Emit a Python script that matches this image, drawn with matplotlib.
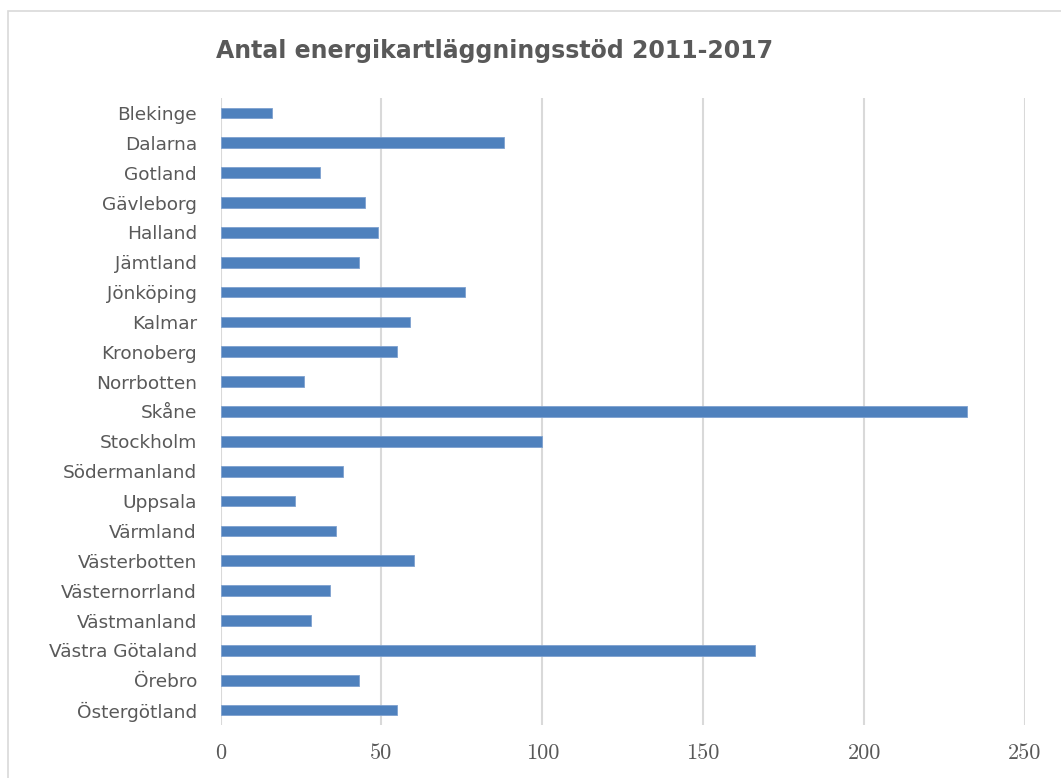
import matplotlib
matplotlib.use("Agg")
import matplotlib.pyplot as plt
from matplotlib.patches import Rectangle

categories = ["Blekinge", "Dalarna", "Gotland", "Gävleborg", "Halland", "Jämtland",
              "Jönköping", "Kalmar", "Kronoberg", "Norrbotten", "Skåne", "Stockholm",
              "Södermanland", "Uppsala", "Värmland", "Västerbotten", "Västernorrland",
              "Västmanland", "Västra Götaland", "Örebro", "Östergötland"]
values = [16, 88, 31, 45, 49, 43, 76, 59, 55, 26, 232, 100, 38, 23, 36, 60, 34, 28, 166, 43, 55]
xticks = [0, 50, 100, 150, 200, 250]
title = "Antal energikartläggningsstöd 2011-2017"

W, H = 1061, 778
fig = plt.figure(figsize=(W/100, H/100), dpi=100)
fig.patches.append(Rectangle((8/W, -0.1), 1.2, 1.1 - 11/H, transform=fig.transFigure,
                             fill=False, edgecolor="#D9D9D9", linewidth=1.2))
ax = fig.add_axes([220.5/W, 1 - 725/H, (1025-220.5)/W, (725-98)/H])

ypos = list(range(len(categories)))
ax.barh(ypos, values, height=0.36, color="#4F81BD", edgecolor="#7EA1CF", linewidth=0.6, zorder=3)
ax.set_ylim(len(categories) - 0.5, -0.5)
ax.set_xlim(0, 250)
ax.set_xticks(xticks)
ax.set_xticklabels([str(t) for t in xticks], fontfamily="cmr10", fontsize=16, color="#595959")
ax.tick_params(axis="both", length=0)
ax.set_yticks(ypos)
ax.set_yticklabels(categories, fontfamily="DejaVu Sans", fontsize=13.3, color="#595959")
ax.tick_params(axis="x", pad=13)
ax.tick_params(axis="y", pad=17)
ax.grid(axis="x", color="#D9D9D9", linewidth=1.5, zorder=0)
for s in ax.spines.values():
    s.set_visible(False)

fig.text(495/W, 1 - 51/H, title, ha="center", va="center", fontsize=17,
         fontweight="bold", color="#595959", fontfamily="DejaVu Sans")

fig.savefig("out.png", dpi=100)
